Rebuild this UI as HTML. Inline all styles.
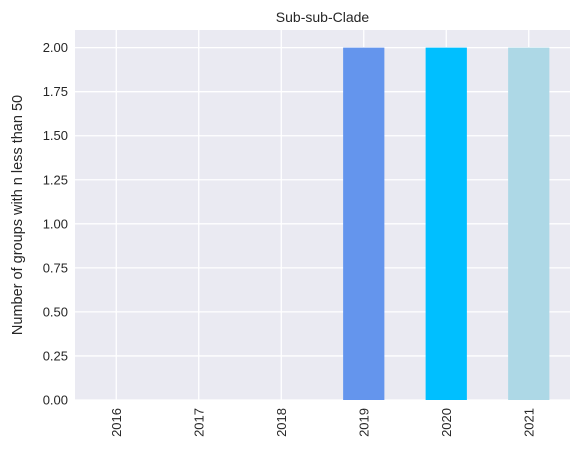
<!DOCTYPE html>
<html><head><meta charset="utf-8"><style>
body{margin:0;background:#fff;font-family:"Liberation Sans","DejaVu Sans",sans-serif;}
</style></head><body>
<svg id="chart" width="579" height="457" xmlns="http://www.w3.org/2000/svg"></svg>
<script>
const categories = ["2016","2017","2018","2019","2020","2021"];
const values = [0,0,0,2,2,2];
const barColors = ["#4c72b0","#4c72b0","#4c72b0","#6495ED","#00BFFF","#ADD8E6"];
const yTicks = [0,0.25,0.5,0.75,1.0,1.25,1.5,1.75,2.0];
const yTickLabels = ["0.00","0.25","0.50","0.75","1.00","1.25","1.50","1.75","2.00"];

const NS="http://www.w3.org/2000/svg";
const svg=document.getElementById('chart');
const L=75,R=570,T=30,B=400,yMax=2.1;
const y=v=>B-(v/yMax)*(B-T);
const step=(R-L)/categories.length;
const x=i=>L+(i+0.5)*step;
function mk(tag,attrs,parent){const e=document.createElementNS(NS,tag);for(const k in attrs)e.setAttribute(k,attrs[k]);(parent||svg).appendChild(e);return e;}

const bg=mk('rect',{x:L,y:T,width:R-L,height:B-T,fill:'#EAEAF2'});



yTicks.forEach((t,i)=>{
  const g=mk('line',{x1:L,x2:R,y1:y(t),y2:y(t),stroke:'#fff','stroke-width':1.3});
  
  
  const tx=mk('text',{x:L-7,y:y(t)+4.5,'text-anchor':'end','font-size':13,fill:'#262626'});
  tx.textContent=yTickLabels[i];
  
  
});
categories.forEach((c,i)=>{
  const g=mk('line',{x1:x(i),x2:x(i),y1:T,y2:B,stroke:'#fff','stroke-width':1.3});
  
  
});
categories.forEach((c,i)=>{
  const w=step*0.5;
  if(values[i]>0){
    const r=mk('rect',{x:x(i)-w/2,y:y(values[i]),width:w,height:B-y(values[i]),fill:barColors[i]});
    
    
  }
  const tx=mk('text',{transform:`translate(${x(i)+4.5},${B+8}) rotate(-90)`,'text-anchor':'end','font-size':13,fill:'#262626'});
  tx.textContent=c;
  
  
});
const title=mk('text',{x:(L+R)/2,y:22,'text-anchor':'middle','font-size':14,fill:'#262626'});
title.textContent='Sub-sub-Clade';


const yl=mk('text',{transform:`translate(22,${(T+B)/2}) rotate(-90)`,'text-anchor':'middle','font-size':14.5,fill:'#262626'});
yl.textContent='Number of groups with n less than 50';


</script>
</body></html>
